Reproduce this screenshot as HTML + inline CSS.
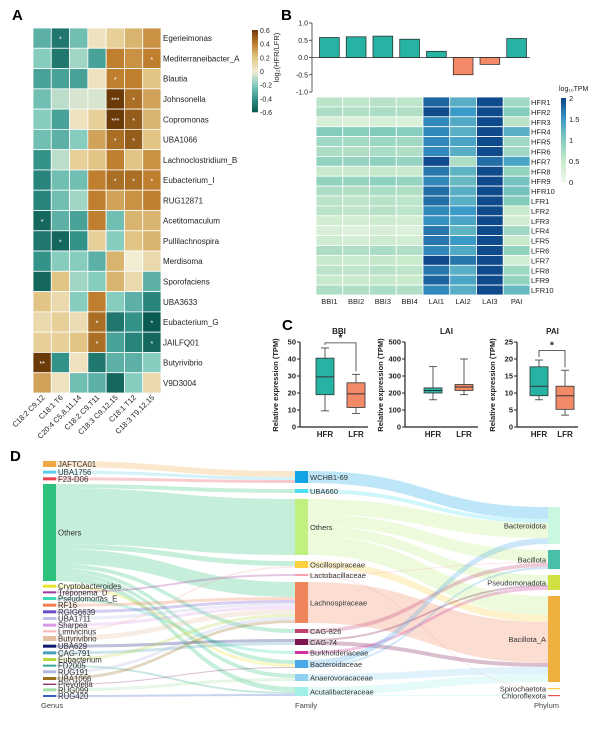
<!DOCTYPE html>
<html><head><meta charset="utf-8"><style>
body{margin:0;background:#fff}
svg{display:block;font-family:"Liberation Sans",Arial,sans-serif}
</style></head><body>
<svg id="fig" width="609" height="738" viewBox="0 0 609 738" xmlns="http://www.w3.org/2000/svg"></svg>
<script>
// ---------- Panel A data ----------
const aRows=["Egerieimonas","Mediterraneibacter_A","Blautia","Johnsonella","Copromonas","UBA1066","Lachnoclostridium_B","Eubacterium_I","RUG12871","Acetitomaculum","Pullilachnospira","Merdisoma","Sporofaciens","UBA3633","Eubacterium_G","JAILFQ01","Butyrivibrio","V9D3004"];
const aCols=["C18:2 C9,12","C18:1 T6","C20:4 C5,8,11,14","C18:2 C9,T11","C18:3 C9,12,15","C18:1 T12","C18:3 T9,12,15"];
const aVals=[
[-0.3,-0.5,-0.25,0.05,0.15,0.25,0.35],
[-0.2,-0.5,-0.15,-0.35,0.4,0.35,0.4],
[-0.35,-0.35,-0.35,0.05,0.4,0.4,0.2],
[-0.25,-0.1,-0.05,-0.05,0.6,0.45,0.3],
[-0.2,-0.35,0.05,0.15,0.6,0.5,0.25],
[-0.25,-0.3,-0.2,0.3,0.45,0.5,0.2],
[-0.4,-0.1,0.15,0.2,0.4,0.2,0.35],
[-0.45,-0.25,-0.25,0.4,0.45,0.45,0.4],
[-0.45,-0.25,-0.15,0.4,0.3,0.35,0.4],
[-0.55,-0.3,-0.35,0.4,-0.25,0.25,0.25],
[-0.5,-0.55,-0.4,0.15,-0.2,0.2,0.25],
[-0.4,-0.2,-0.2,-0.3,0.25,0.0,0.1],
[-0.55,0.2,-0.15,-0.2,0.25,0.1,-0.3],
[0.2,0.1,-0.2,0.4,-0.2,-0.3,-0.45],
[0.1,0.15,0.08,0.45,-0.5,-0.4,-0.6],
[0.15,0.15,0.2,0.45,-0.35,-0.45,-0.55],
[0.6,-0.4,0.05,-0.5,-0.3,-0.3,-0.2],
[0.3,0.05,-0.25,-0.3,-0.55,-0.2,0.1]];
const aSig=[
["","*","","","","",""],["","","","","","","*"],["","","","","*","",""],["","","","","***","*",""],
["","","","","***","*",""],["","","","","*","*",""],["","","","","","",""],["","","","","*","*","*"],
["","","","","","",""],["*","","","","","",""],["","*","","","","",""],["","","","","","",""],
["","","","","","",""],["","","","","","",""],["","","","*","","","*"],["","","","*","","","*"],
["**","","","","","",""],["","","","","","",""]];
const aTicks=[0.6,0.4,0.2,0,-0.2,-0.4,-0.6];
// ---------- Panel B data ----------
const bCats=["BBI1","BBI2","BBI3","BBI4","LAI1","LAI2","LAI3","PAI"];
const bBars=[0.58,0.6,0.62,0.53,0.18,-0.5,-0.2,0.55];
const bBarTicks=[1.0,0.5,0.0,-0.5,-1.0];
const bRows=["HFR1","HFR2","HFR3","HFR4","HFR5","HFR6","HFR7","HFR8","HFR9","HFR10","LFR1","LFR2","LFR3","LFR4","LFR5","LFR6","LFR7","LFR8","LFR9","LFR10"];
const bBBI=[0.6,0.7,0.3,1.0,0.8,0.7,0.9,0.5,0.9,0.7,0.6,0.6,0.4,0.3,0.4,0.7,0.5,0.6,0.5,0.7];
const bLAI1=[1.8,1.95,1.6,1.6,1.6,1.6,1.95,1.7,1.6,1.75,1.75,1.6,1.55,1.7,1.7,1.6,1.95,1.7,1.8,1.6];
const bLAI2=[1.3,1.5,1.35,1.3,1.4,1.3,0.7,1.25,1.2,1.3,1.3,1.5,1.4,1.25,1.5,1.35,1.7,1.3,1.4,1.3];
const bLAI3=[1.95,1.95,1.95,1.95,1.95,1.95,1.75,1.95,1.95,1.95,1.95,1.95,1.95,1.95,1.95,1.95,1.95,1.95,1.95,1.95];
const bPAI=[0.8,1.0,0.6,1.3,0.8,0.8,1.4,0.9,1.1,1.1,1.0,0.5,0.4,0.8,0.5,0.9,0.4,0.8,0.9,1.2];
const bBBIoffsets=[0,-0.03,0.02,-0.02];
const bScaleTicks=[2,1.5,1,0.5,0];
// ---------- Panel C data ----------
const cTitles=["BBI","LAI","PAI"];
const cMax=[50,500,25];
const cStep=[10,100,5];
const cHFR=[[9.5,19,29.5,40.5,46.5],[160,200,215,230,355],[8,9.2,12,17.7,19.7]];
const cLFR=[[8,11.5,19.5,26,31],[190,215,235,250,400],[3.5,5.2,9.2,12,16.7]];
const cSig=[49.5,null,22.5];
// ---------- Panel D data ----------
const genus=["JAFTCA01","UBA1756","F23-D06","Others","Cryptobacteroides","Treponema_D","Pseudomonas_E","RF16","RGIG6639","UBA1711","Sharpea","Limivicinus","Butyrivibrio","UBA629","CAG-791","Eubacterium","FD2005","RUG191","UBA1066","Prevotella","RUG099","RUG420"];
const genusCol=["#f0a843","#5bd0ea","#e8434f","#2ec27e","#e9e22a","#a0359d","#3dd9b3","#ef7f4f","#6a4fc8","#c0c0e8","#d79be8","#f5b8b8","#e5c0a0","#0e1a6e","#4aa0b8","#b8d840","#3aa896","#b0b8e0","#9a7020","#7a1450","#a0e0a8","#3a60c8"];
const family=["WCHB1-69","UBA660","Others","Oscillospiraceae","Lactobacillaceae","Lachnospiraceae","CAG-826","CAG-74","Burkholderiaceae","Bacteroidaceae","Anaerovoracaceae","Acutalibacteraceae"];
const familyCol=["#12a5e6","#4ee0f0","#c0f080","#fcd040","#f8a0b0","#f0845a","#c04070","#7a1450","#d030a0","#48a8e8","#90d0f0","#a0f0e8"];
const phylum=["Bacteroidota","Bacillota","Pseudomonadota","Bacillota_A","Spirochaetota","Chloroflexota"];
const phylumCol=["#c8f8e0","#48c0a8","#d0e040","#f0b040","#f8d040","#e85050"];
const gfLinks=[[0,0,6],[1,0,3],[2,0,3],[3,1,4],[3,2,56],[3,3,5],[3,5,15],[3,6,4],[3,9,4],[3,10,4],[3,11,5],
[4,9,3],[5,4,2],[6,8,3],[7,5,3],[8,5,3],[9,5,3],[10,5,3],[11,3,2],[12,5,5],[13,7,3],[14,7,3],[15,5,3],[16,11,2],[17,5,3],[18,5,3],[19,9,1],[20,10,3],[21,11,2]];
const fpLinks=[[0,0,12],[1,0,4],[2,0,15],[2,1,12],[2,2,10],[2,3,19],[3,3,7],[4,1,1],[4,4,1],[5,3,41],[6,1,4],[7,3,4],[7,2,2],[8,2,3],[9,0,6],[9,1,2],[10,3,7],[11,3,8],[11,5,1]];

// ---------- helpers ----------
const svg=document.getElementById('fig');
const NS="http://www.w3.org/2000/svg";
function mk(tag,attrs,parent){const e=document.createElementNS(NS,tag);for(const k in attrs)e.setAttribute(k,attrs[k]);(parent||svg).appendChild(e);return e;}
function txt(s,x,y,attrs,parent){const e=mk('text',Object.assign({x:x,y:y,'font-size':8,fill:'#222'},attrs||{}),parent);e.textContent=s;return e;}
function hex(c){return[parseInt(c.slice(1,3),16),parseInt(c.slice(3,5),16),parseInt(c.slice(5,7),16)];}
function interp(stops,v){if(v<=stops[0][0])return stops[0][1];for(let i=1;i<stops.length;i++){if(v<=stops[i][0]){const t=(v-stops[i-1][0])/(stops[i][0]-stops[i-1][0]);const a=hex(stops[i-1][1]),b=hex(stops[i][1]);return 'rgb('+a.map((x,j)=>Math.round(x+(b[j]-x)*t)).join(',')+')';}}return stops[stops.length-1][1];}
const brbg=[[-0.6,'#0b5a50'],[-0.4,'#339389'],[-0.2,'#86cdc0'],[0,'#f2ecd2'],[0.2,'#e2c585'],[0.4,'#bf7f2e'],[0.6,'#6a3a08']];
const gnbu=[[0,'#eff8ea'],[0.5,'#c8e9cb'],[1,'#84cdbd'],[1.5,'#3a9ac8'],[2,'#0a4285']];

// panel letters
[["A",12,20],["B",281,20],["C",282,330],["D",10,461]].forEach(p=>{const t=txt(p[0],p[1],p[2],{'font-size':15,'font-weight':'bold',fill:'#000'});});

// ---------- Panel A ----------
(function(){
const g=mk('g',{});  
const x0=33,y0=28,cw=(161-33)/aCols.length,rh=(393-28)/aRows.length;
aRows.forEach((r,i)=>{
  aCols.forEach((c,j)=>{
    const rc=mk('rect',{x:x0+j*cw,y:y0+i*rh,width:cw,height:rh,fill:interp(brbg,aVals[i][j]),stroke:'#fff','stroke-width':0.8},g);
    
    
    if(aSig[i][j]){const s=txt(aSig[i][j],x0+(j+0.5)*cw,y0+(i+0.5)*rh+3.5,{'font-size':7,fill:'#fff','text-anchor':'middle'},g);}
  });
  const l=txt(r,163,y0+(i+0.5)*rh+3,{'font-size':8},g);
  
  
});
aCols.forEach((c,j)=>{
  const cx=x0+(j+0.5)*cw+3,cy=y0+aRows.length*rh+5;
  const l=txt(c,cx,cy,{'font-size':7.5,'text-anchor':'end',transform:'rotate(-45 '+cx+' '+cy+')'},g);
  
  
});
// colorbar
const cb=mk('g',{});  
const cby0=30,cby1=112,n=40;
for(let k=0;k<n;k++){const v=0.6-1.2*(k+0.5)/n;mk('rect',{x:252,y:cby0+k*(cby1-cby0)/n,width:6,height:(cby1-cby0)/n+0.3,fill:interp(brbg,v)},cb);}
aTicks.forEach(v=>{txt(v===0?'0':v.toFixed(1),260,cby0+(0.6-v)/1.2*(cby1-cby0)+3,{'font-size':7},cb);});
})();

// ---------- Panel B bars ----------
(function(){
const g=mk('g',{});  
const ax=312,yz=57.5,k=34.5,x0=316,x1=530,cw=(x1-x0)/bCats.length;
const Y=v=>yz-v*k;
mk('line',{x1:ax,y1:Y(1),x2:ax,y2:Y(-1),stroke:'#333','stroke-width':0.8},g);
bBarTicks.forEach(v=>{mk('line',{x1:ax-3,y1:Y(v),x2:ax,y2:Y(v),stroke:'#333','stroke-width':0.8},g);txt(v.toFixed(1),ax-4,Y(v)+2.5,{'font-size':7,'text-anchor':'end'},g);});
bBars.forEach((v,i)=>{
  const b=mk('rect',{x:x0+i*cw+3.5,y:Math.min(Y(v),Y(0)),width:cw-7,height:Math.abs(Y(v)-Y(0)),fill:v>=0?'#27b3a3':'#f28a68',stroke:'#222','stroke-width':0.7},g);
  
  
});
mk('line',{x1:ax,y1:Y(0),x2:x1,y2:Y(0),stroke:'#333','stroke-width':0.8},g);
const yl=txt('log₂(HFR/LFR)',279,yz,{'font-size':7.5,'text-anchor':'middle',transform:'rotate(-90 279 '+yz+')'},g);


// heatmap
const h=mk('g',{});  
const hy0=97,hy1=295,rh=(hy1-hy0)/bRows.length;
bRows.forEach((r,i)=>{
  const vals=[bBBI[i]+bBBIoffsets[0],bBBI[i]+bBBIoffsets[1],bBBI[i]+bBBIoffsets[2],bBBI[i]+bBBIoffsets[3],bLAI1[i],bLAI2[i],bLAI3[i],bPAI[i]];
  vals.forEach((v,j)=>{const c=mk('rect',{x:x0+j*cw,y:hy0+i*rh,width:cw,height:rh,fill:interp(gnbu,v),stroke:'#fff','stroke-width':0.8},h);
    
    });
  txt(r,531,hy0+(i+0.5)*rh+3,{'font-size':7.5},h);
});
bCats.forEach((c,j)=>txt(c,x0+(j+0.5)*cw,304,{'font-size':7.5,'text-anchor':'middle'},h));
const cb=mk('g',{});  
txt('log₁₀TPM',559,91,{'font-size':7},cb);
const c0=98,c1=182,n=40;
for(let k2=0;k2<n;k2++){const v=2-2*(k2+0.5)/n;mk('rect',{x:561,y:c0+k2*(c1-c0)/n,width:5,height:(c1-c0)/n+0.3,fill:interp(gnbu,v)},cb);}
bScaleTicks.forEach(v=>txt(String(v),569,c0+(2-v)/2*(c1-c0)+3,{'font-size':7.5},cb));
})();

// ---------- Panel C ----------
(function(){
const axX=[300,405,517],ends=[368,478,578],hx=[325,433,539],lx=[356,464,565];
const yt=342,yb=427;
cTitles.forEach((t,p)=>{
  const g=mk('g',{});  
  const Y=v=>yb-v/cMax[p]*(yb-yt);
  mk('line',{x1:axX[p],y1:yt,x2:axX[p],y2:yb,stroke:'#222','stroke-width':1.2},g);
  mk('line',{x1:axX[p],y1:yb,x2:ends[p],y2:yb,stroke:'#222','stroke-width':1.2},g);
  for(let v=0;v<=cMax[p];v+=cStep[p]){mk('line',{x1:axX[p]-3,y1:Y(v),x2:axX[p],y2:Y(v),stroke:'#222','stroke-width':1},g);txt(String(v),axX[p]-4,Y(v)+2.5,{'font-size':7.5,'font-weight':'bold','text-anchor':'end'},g);}
  txt(t,(axX[p]+ends[p])/2+5,334,{'font-size':8,'font-weight':'bold','text-anchor':'middle'},g);
  const yl=(axX[p]-22);
  txt('Relative expression (TPM)',yl,385,{'font-size':7.5,'font-weight':'bold','text-anchor':'middle',transform:'rotate(-90 '+yl+' 385)'},g);
  [[hx[p],cHFR[p],'#27b3a3','HFR'],[lx[p],cLFR[p],'#f28a68','LFR']].forEach(b=>{
    const [cx,d,col,lab]=b,w=18;
    mk('line',{x1:cx,y1:Y(d[0]),x2:cx,y2:Y(d[4]),stroke:'#333','stroke-width':0.8},g);
    mk('line',{x1:cx-4,y1:Y(d[0]),x2:cx+4,y2:Y(d[0]),stroke:'#333','stroke-width':0.8},g);
    mk('line',{x1:cx-4,y1:Y(d[4]),x2:cx+4,y2:Y(d[4]),stroke:'#333','stroke-width':0.8},g);
    const r=mk('rect',{x:cx-w/2,y:Y(d[3]),width:w,height:Y(d[1])-Y(d[3]),fill:col,stroke:'#333','stroke-width':0.8},g);
    
    
    mk('line',{x1:cx-w/2,y1:Y(d[2]),x2:cx+w/2,y2:Y(d[2]),stroke:'#333','stroke-width':1},g);
    txt(lab,cx,437,{'font-size':8,'font-weight':'bold','text-anchor':'middle'},g);
  });
  if(cSig[p]!==null){const ys=Y(cSig[p]);
    mk('polyline',{points:hx[p]+','+(Y(cHFR[p][4])-3)+' '+hx[p]+','+ys+' '+lx[p]+','+ys+' '+lx[p]+','+(Y(cLFR[p][4])-3),fill:'none',stroke:'#333','stroke-width':0.8},g);
    txt('*',(hx[p]+lx[p])/2,ys-2,{'font-size':10,'font-weight':'bold','text-anchor':'middle'},g);}
});
})();

// ---------- Panel D sankey ----------
(function(){
const g=mk('g',{});  
const cols=[{names:genus,colors:genusCol,x:43,w:13,top:461,bot:697},{names:family,colors:familyCol,x:295,w:13,top:471,bot:696},{names:phylum,colors:phylumCol,x:548,w:12,top:507,bot:696}];
const inV=cols.map(c=>c.names.map(()=>0)),outV=cols.map(c=>c.names.map(()=>0));
gfLinks.forEach(l=>{outV[0][l[0]]+=l[2];inV[1][l[1]]+=l[2];});
fpLinks.forEach(l=>{outV[1][l[0]]+=l[2];inV[2][l[1]]+=l[2];});
const k=1.0;
const pos=cols.map((c,ci)=>{const vals=c.names.map((n,i)=>Math.max(inV[ci][i],outV[ci][i]));const tot=vals.reduce((a,b)=>a+b,0);const gap=(c.bot-c.top-tot*k)/(vals.length-1);let y=c.top;return vals.map(v=>{const r={y:y,h:v*k};y+=v*k+gap;return r;});});
const links=mk('g',{'fill-opacity':0.28},g);
function drawLinks(L,ci){
  const so=pos[ci].map(p=>p.y),to=pos[ci+1].map(p=>p.y);
  const sorted=L.slice();
  const outOrder=sorted.slice().sort((a,b)=>a[0]-b[0]||a[1]-b[1]);
  const sy=new Map();outOrder.forEach(l=>{sy.set(l,so[l[0]]);so[l[0]]+=l[2]*k;});
  const inOrder=sorted.slice().sort((a,b)=>a[1]-b[1]||a[0]-b[0]);
  const ty=new Map();inOrder.forEach(l=>{ty.set(l,to[l[1]]);to[l[1]]+=l[2]*k;});
  const xa=cols[ci].x+cols[ci].w,xb=cols[ci+1].x,xm=(xa+xb)/2;
  L.forEach(l=>{const y0=sy.get(l),y1=ty.get(l),h=l[2]*k;
    const p=mk('path',{d:`M${xa},${y0} C${xm},${y0} ${xm},${y1} ${xb},${y1} L${xb},${y1+h} C${xm},${y1+h} ${xm},${y0+h} ${xa},${y0+h} Z`,fill:cols[ci].colors[l[0]]},links);
    
    });
}
drawLinks(gfLinks,0);drawLinks(fpLinks,1);
cols.forEach((c,ci)=>{c.names.forEach((n,i)=>{const p=pos[ci][i];
  const r=mk('rect',{x:c.x,y:p.y,width:c.w,height:Math.max(p.h,1.2),fill:c.colors[i]},g);
  
  
  if(ci<2) txt(n,c.x+c.w+2,p.y+p.h/2+3,{'font-size':ci===0?7.8:7.5,fill:'#333'},g);
  else txt(n,c.x-2,p.y+p.h/2+3,{'font-size':7.5,fill:'#333','text-anchor':'end'},g);
});});
txt('Genus',41,708,{'font-size':7.5,fill:'#444'},g);
txt('Family',295,708,{'font-size':7.5,fill:'#444'},g);
txt('Phylum',534,708,{'font-size':7.5,fill:'#444'},g);
})();
</script>
</body></html>
